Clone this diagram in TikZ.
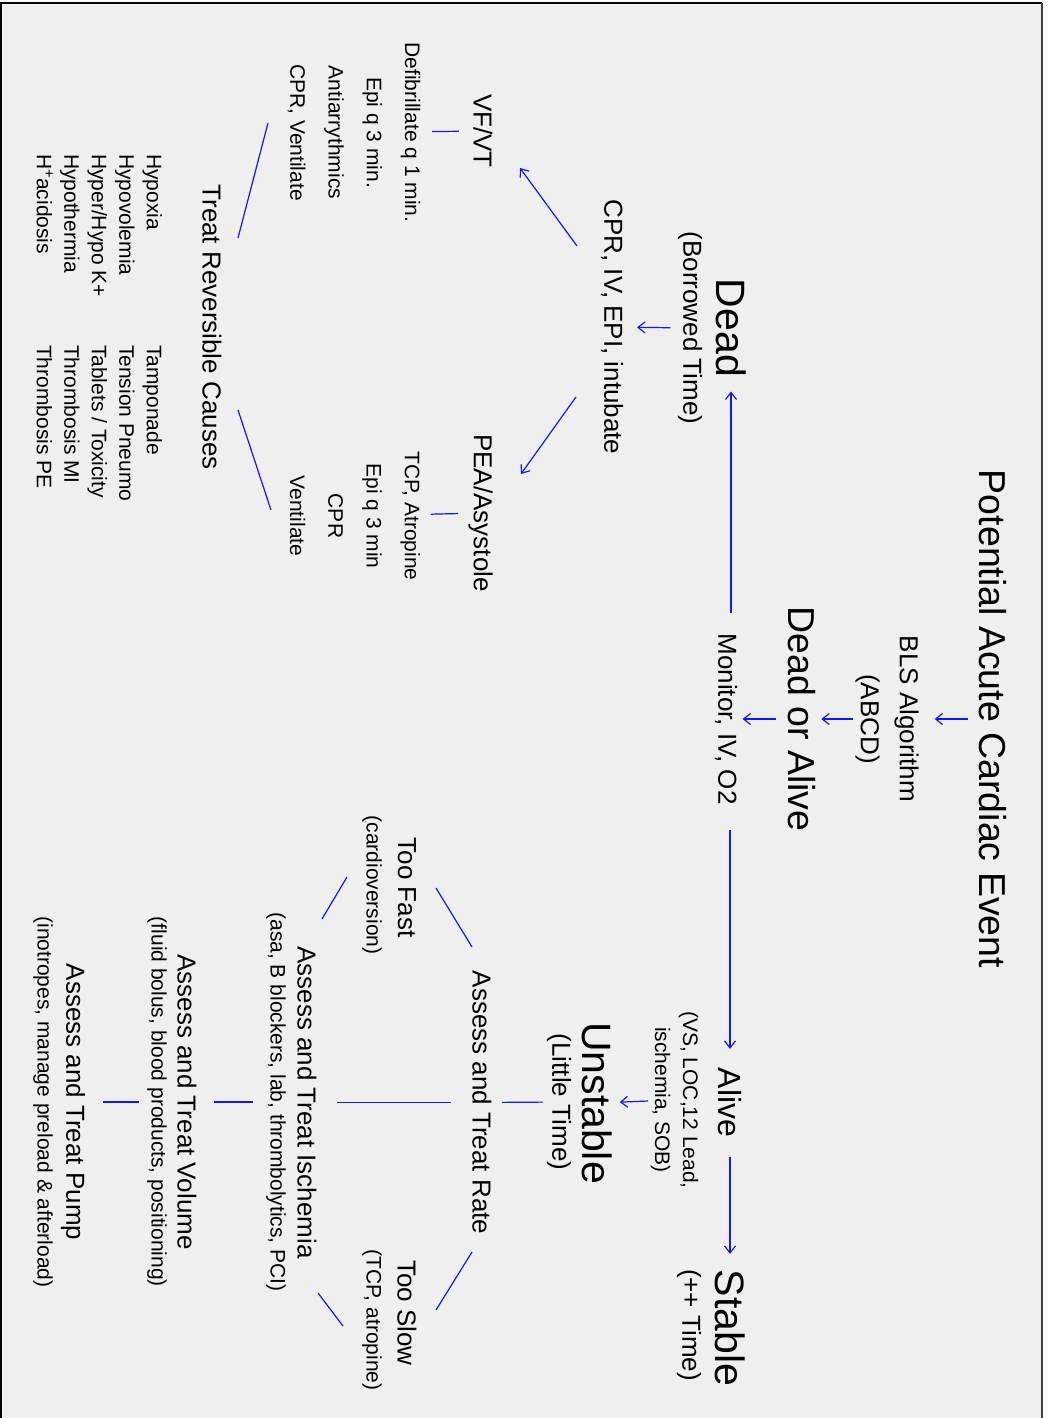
\documentclass[tikz,border=0pt]{standalone}
\usepackage{fontspec}
\setmainfont{Liberation Sans}
\usetikzlibrary{arrows.meta,calc}
\definecolor{panel}{RGB}{239,239,239}
\definecolor{linkblue}{RGB}{20,20,255}
\begin{document}
\begin{tikzpicture}[x=1pt,y=-1pt,
  lbl/.style={rotate=-90,inner sep=0pt,outer sep=0pt,align=center},
  tbig/.style={lbl,font=\fontsize{41}{49}\selectfont},
  ttitle/.style={lbl,font=\fontsize{37.5}{45}\selectfont},
  tmid/.style={lbl,font=\fontsize{32}{38}\selectfont},
  tnorm/.style={lbl,font=\fontsize{26}{31}\selectfont},
  tsmall/.style={lbl,font=\fontsize{21}{28}\selectfont},
  tlist/.style={lbl,font=\fontsize{21}{38.3}\selectfont},
  tcause/.style={lbl,font=\fontsize{21}{27.5}\selectfont,align=left,anchor=north west},
  link/.style={linkblue,line width=1.2pt},
  arr/.style={link,-{Straight Barb[length=7pt,width=11pt]}}]
  \useasboundingbox (0,0) rectangle (1047,1418);
  \fill[white] (0,0) rectangle (1047,1418);
  \fill[panel] (1,3) rectangle (1042,1418);
  \draw[line width=2pt] (1,1418) -- (1,3) -- (1042,3);
  \draw[line width=2.5pt,black!75] (1042,3) -- (1042,1418);
  % main column
  \node[ttitle] (event) at (993,719) {Potential Acute Cardiac Event};
  \node[tnorm,font=\fontsize{26}{39}\selectfont] (bls) at (887,719) {BLS Algorithm\\(ABCD)};
  \node[ttitle] (doa) at (802,719) {Dead or Alive};
  \node[tnorm] (monitor) at (726,719) {Monitor, IV, O2};
  % dead branch
  \node[tbig] (dead) at (731,328) {Dead};
  \node[tnorm] (borrowed) at (690,328) {(Borrowed Time)};
  \node[tnorm] (cpr) at (612,327) {CPR, IV, EPI, intubate};
  \node[tnorm] (vf) at (483,131) {VF/VT};
  \node[tnorm] (pea) at (480.5,513) {PEA/Asystole};
  \node[tlist] (vflist) at (354,132.5) {Defibrillate q 1 min.\\Epi q 3 min.\\Antiarrythmics\\CPR, Ventilate};
  \node[tlist] (pealist) at (355,516) {TCP, Atropine\\Epi q 3 min\\CPR\\Ventilate};
  \node[tnorm] (causes) at (212,327) {Treat Reversible Causes};
  \node[tcause] (hlist) at (162,154) {Hypoxia\\Hypovolemia\\Hyper/Hypo K+\\Hypothermia\\H\textsuperscript{+}acidosis};
  \node[tcause] (tlist) at (162,345) {Tamponade\\Tension Pneumo\\Tablets / Toxicity\\Thrombosis MI\\Thrombosis PE};
  % alive branch
  \node[tmid] (alive) at (730,1102.5) {Alive};
  \node[tsmall] (vitals) at (674.5,1100) {(VS, LOC,12 Lead,\\ischemia, SOB)};
  \node[tbig] (stable) at (730,1328) {Stable};
  \node[tnorm] (plustime) at (689,1325) {(++ Time)};
  \node[tbig] (unstable) at (597,1103) {Unstable};
  \node[tnorm] (little) at (559,1102) {(Little Time)};
  \node[tnorm] (rate) at (482,1102.5) {Assess and Treat Rate};
  \node[tnorm] (fast) at (407,887.5) {Too Fast};
  \node[tsmall] (fastsub) at (372,885) {(cardioversion)};
  \node[tnorm] (slow) at (407,1313) {Too Slow};
  \node[tsmall] (slowsub) at (372,1320) {(TCP, atropine)};
  \node[tnorm] (ischemia) at (307,1102.5) {Assess and Treat Ischemia};
  \node[tsmall] (ischsub) at (276,1102) {(asa, B blockers, lab, thrombolytics, PCI)};
  \node[tnorm] (volume) at (187,1102) {Assess and Treat Volume};
  \node[tsmall] (volsub) at (157,1102) {(fluid bolus, blood products, positioning)};
  \node[tnorm] (pump) at (73,1102) {Assess and Treat Pump};
  \node[tsmall] (pumpsub) at (43,1102) {(inotropes, manage preload \& afterload)};
  % connectors
  \draw[arr,shorten <=11pt,shorten >=16pt] (event) -- (bls);
  \draw[arr,shorten <=2pt,shorten >=5.5pt] (bls) -- (doa);
  \draw[arr,shorten <=12.5pt,shorten >=5.5pt] (doa) -- (monitor);
  \draw[arr,shorten <=20pt,shorten >=14.5pt] (monitor.west -| dead) -- (dead.east);
  \draw[arr,shorten <=25pt,shorten >=19pt] (monitor.east -| alive) -- (alive.west);
  \draw[arr,shorten <=19.5pt,shorten >=16pt] (alive) -- (stable);
  \draw[arr,shorten <=7.5pt,shorten >=14pt] (borrowed) -- (cpr);
  \draw[arr] ($(cpr)+(-35,-81)$) -- ($(vf)+(37,37)$);
  \draw[arr] ($(cpr)+(-36,70)$) -- ($(pea)+(40.5,-39)$);
  \draw[link,shorten <=14.5pt,shorten >=11.7pt] (vf) -- (vflist);
  \draw[link,shorten <=10.3pt,shorten >=10.7pt] (pea) -- (pealist);
  \draw[link] ($(vflist)+(-86,-9.5)$) -- ($(causes)+(26,-89)$);
  \draw[link] ($(pealist)+(-84,-6)$) -- ($(causes)+(26,83)$);
  \draw[arr,shorten <=2.6pt,shorten >=7.7pt] (vitals) -- (unstable);
  \draw[link,shorten <=3.8pt,shorten >=10.5pt] (little) -- (rate);
  \draw[link,shorten <=21.5pt,shorten >=20.5pt] (rate) -- (ischemia);
  \draw[link] ($(rate)+(-10,-155.5)$) -- ($(fast)+(29,0.5)$);
  \draw[link] ($(rate)+(-10,149.5)$) -- ($(slow)+(29,-3)$);
  \draw[link] ($(fastsub)+(-25,-8)$) -- ($(ischemia)+(15,-183.5)$);
  \draw[link] ($(slowsub)+(-29,6)$) -- ($(ischemia)+(11,190.5)$);
  \draw[link,shorten <=12.8pt,shorten >=17.5pt] (ischsub) -- (volume);
  \draw[link,shorten <=7.8pt,shorten >=17.6pt] (volsub) -- (pump);
\end{tikzpicture}
\end{document}
